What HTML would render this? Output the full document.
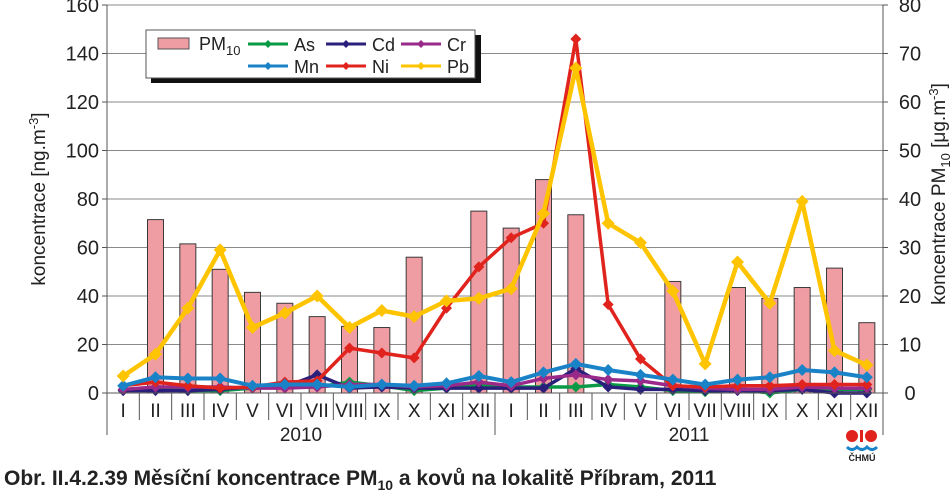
<!DOCTYPE html>
<html><head><meta charset="utf-8"><style>
body{margin:0;background:#fff;width:950px;height:493px;overflow:hidden;font-family:"Liberation Sans",sans-serif}
</style></head><body>
<svg id="s" width="950" height="493" xmlns="http://www.w3.org/2000/svg" font-family="Liberation Sans, sans-serif"></svg>
<script>
const L=107,R=883,T=5,B=393,W=(R-L)/24,k=(B-T)/160;
const X=i=>L+(i+0.5)*W, Y=v=>B-v*k;
let h='';
for(let v=20;v<=160;v+=20)h+=`<line x1="${L}" x2="${R}" y1="${Y(v)}" y2="${Y(v)}" stroke="#8a8a8a" stroke-width="1"/>`;
const bars=[null,71.5,61.5,51,41.5,37,31.5,27.5,27,56,null,75,68,88,73.5,null,null,46,null,43.5,39,43.5,51.5,29];
bars.forEach((v,i)=>{if(v)h+=`<rect x="${X(i)-8}" y="${Y(v)}" width="16" height="${v*k}" fill="#f09ca3" stroke="#3a3a3a" stroke-width="1"/>`;});
const S=[
['#0a9a46',3.5,[1,1.5,1,1,2,2.5,2.5,4.5,3,1,2,3,2.5,2.5,2.5,3.5,2.5,1,0.5,1.5,0,1.5,1.5,1.5]],
['#2a1f7a',3.5,[1,1,1,1.5,2.5,2.5,7.5,2,2.5,2,2,2,2,2,10,2.5,1.5,1.5,1,1,1,1.5,0,0]],
['#9a2a8a',3.5,[1.5,2.5,2.5,2.5,2,2,2.5,3.5,3.5,2.5,3,4.5,3,6,7.5,5.5,5,3,2,1.5,1.5,2.5,2,2]],
['#e0231d',3.5,[3,4.5,3,2,2.5,4.5,5,18.5,16.5,14.5,35,52,64,70,146,36.5,14,3,2.5,3,3,3.5,3.5,3.5]],
['#1a83c8',4,[3,6.5,6,6,3,3.5,3.5,2.5,3.5,3,4,7,4.5,8.5,12,9.5,7.5,5.5,3.5,5.5,6.5,9.5,8.5,6.5]],
['#ffc400',4.5,[7,16,35,59,27,33,40,27,34,31.5,38,39,43,74,134,70,62,42,12,54,37,79,17.5,11.5]]];
S.forEach(([c,w,d])=>{
h+=`<polyline fill="none" stroke="${c}" stroke-width="${w}" stroke-linejoin="round" points="${d.map((v,i)=>X(i)+','+Y(v)).join(' ')}"/>`;
d.forEach((v,i)=>{const x=X(i),y=Y(v),r=w+2;h+=`<polygon fill="${c}" points="${x},${y-r} ${x+r},${y} ${x},${y+r} ${x-r},${y}"/>`;});});
h+=`<line x1="${L}" x2="${L}" y1="${T}" y2="${B+42}" stroke="#555"/><line x1="${R}" x2="${R}" y1="${T}" y2="${B+42}" stroke="#555"/><line x1="${L}" x2="${R}" y1="${B}" y2="${B}" stroke="#555"/>`;
for(let v=0;v<=160;v+=20){h+=`<line x1="${L-5}" x2="${L}" y1="${Y(v)}" y2="${Y(v)}" stroke="#555"/><text x="${L-8}" y="${Y(v)+7}" font-size="20" text-anchor="end" fill="#222">${v}</text>`;
h+=`<line x1="${R}" x2="${R+5}" y1="${Y(v)}" y2="${Y(v)}" stroke="#555"/><text x="${R+27}" y="${Y(v)+7}" font-size="20" text-anchor="middle" fill="#222">${v/2}</text>`;}
const M=['I','II','III','IV','V','VI','VII','VIII','IX','X','XI','XII'];
for(let i=0;i<24;i++){h+=`<text x="${X(i)}" y="${B+24}" font-size="19" text-anchor="middle" fill="#222">${M[i%12]}</text>`;if(i>0&&i!=12)h+=`<line x1="${L+i*W}" x2="${L+i*W}" y1="${B}" y2="${B+27}" stroke="#555"/>`;}
h+=`<line x1="${L+12*W}" x2="${L+12*W}" y1="${B}" y2="${B+42}" stroke="#555"/>`;
h+=`<text x="${L+6*W}" y="${B+48}" font-size="19" text-anchor="middle" fill="#222">2010</text><text x="${L+18*W}" y="${B+48}" font-size="19" text-anchor="middle" fill="#222">2011</text>`;
h+=`<text transform="translate(45,${(T+B)/2}) rotate(-90)" font-size="19" text-anchor="middle" fill="#222">koncentrace [ng.m<tspan dy="-7" font-size="13">-3</tspan><tspan dy="7">]</tspan></text>`;
h+=`<text transform="translate(945,${(T+B)/2-5}) rotate(-90)" font-size="19" text-anchor="middle" fill="#222">koncentrace PM<tspan dy="5" font-size="13">10</tspan><tspan dy="-5"> [μg.m</tspan><tspan dy="-7" font-size="13">-3</tspan><tspan dy="7">]</tspan></text>`;
h+=`<rect x="151" y="35" width="330" height="48" fill="#111"/><rect x="146" y="30" width="329" height="48" fill="#fff" stroke="#555"/>`;
h+=`<rect x="158" y="38" width="31" height="11" fill="#f09ca3" stroke="#555"/><text x="199" y="50" font-size="18" fill="#222">PM<tspan dy="5" font-size="13">10</tspan></text>`;
const lg=[['#0a9a46',248,44,'As'],['#2a1f7a',326,44,'Cd'],['#9a2a8a',401,44,'Cr'],['#1a83c8',248,66,'Mn'],['#e0231d',326,66,'Ni'],['#ffc400',401,66,'Pb']];
lg.forEach(([c,x,y,t])=>{h+=`<line x1="${x}" x2="${x+40}" y1="${y}" y2="${y}" stroke="${c}" stroke-width="3"/><polygon fill="${c}" points="${x+20},${y-4} ${x+24},${y} ${x+20},${y+4} ${x+16},${y}"/><text x="${x+46}" y="${y+7}" font-size="18" fill="#222">${t}</text>`;});
h+=`<circle cx="852" cy="436" r="6" fill="#e0231d"/><rect x="860" y="430" width="3" height="12" fill="#e0231d"/><circle cx="871" cy="436" r="6" fill="#e0231d"/><path d="M847 447 q5 5 10 0 q5 5 10 0 q5 5 10 0" stroke="#1a83c8" stroke-width="3" fill="none"/><text x="862" y="461" font-size="9" font-weight="bold" text-anchor="middle" fill="#222">ČHMÚ</text>`;
h+=`<text x="4" y="485" font-size="21" font-weight="bold" fill="#222">Obr. II.4.2.39  Měsíční koncentrace PM<tspan dy="5" font-size="14">10</tspan><tspan dy="-5"> a kovů na lokalitě Příbram, 2011</tspan></text>`;
document.getElementById('s').innerHTML=h;
</script>
</body></html>
